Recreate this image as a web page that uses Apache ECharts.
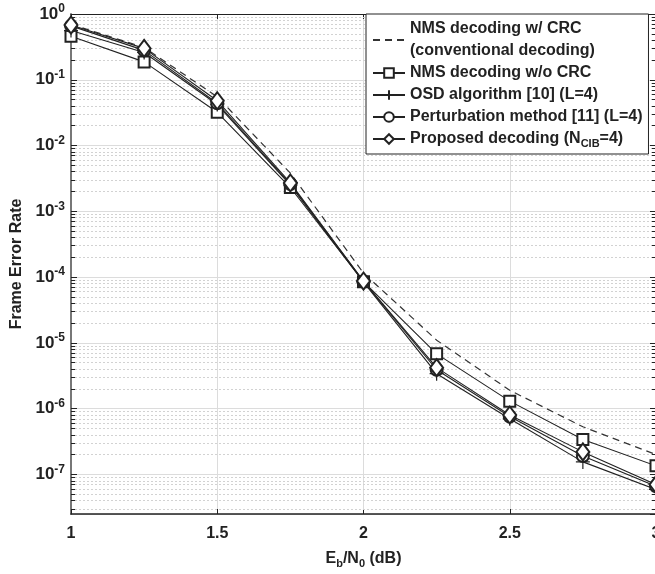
<!DOCTYPE html>
<html>
<head>
<meta charset="utf-8" />
<title>Frame Error Rate</title>
<script src="https://cdn.jsdelivr.net/npm/echarts@6/dist/echarts.min.js"></script>
<style>
html, body { margin: 0; padding: 0; background: #fff; }
#chart { width: 655px; height: 574px; }
</style>
</head>
<body>
<div id="chart"></div>
<script>
// Eb/N0 (dB)
var ebn0 = [1, 1.25, 1.5, 1.75, 2, 2.25, 2.5, 2.75, 3];
// frame error rates
var nmsCrc   = [0.70, 0.31, 0.055, 0.0038, 1.15e-4, 1.1e-5, 1.9e-6, 5.3e-7, 2.0e-7];
var nmsNoCrc = [0.46, 0.187, 0.032, 0.0023, 8.5e-5, 6.8e-6, 1.3e-6, 3.4e-7, 1.35e-7];
var osd      = [0.56, 0.26, 0.042, 0.0025, 8.4e-5, 3.4e-6, 7.0e-7, 1.55e-7, 5.9e-8];
var perturb  = [0.66, 0.28, 0.044, 0.0026, 8.6e-5, 3.9e-6, 7.6e-7, 1.9e-7, 6.6e-8];
var proposed = [0.68, 0.30, 0.048, 0.0027, 8.7e-5, 4.2e-6, 8.0e-7, 2.2e-7, 7.0e-8];

var names = [
	'NMS decoding w/ CRC\n(conventional decoding)',
	'NMS decoding w/o CRC',
	'OSD algorithm [10] (L=4)',
	'Perturbation method [11] (L=4)',
	'Proposed decoding (NCIB=4)'
];

var yMin = 2.5e-8, yMax = 1;
var ink = '#222';
var font = '"Liberation Sans", Arial, Helvetica, sans-serif';

// minor grid values 2..9 x 10^k
var minorVals = [];
for (var k = -8; k < 0; k++) {
	for (var m = 2; m <= 9; m++) {
		var v = m * Math.pow(10, k);
		if (v > yMin && v < yMax) minorVals.push(v);
	}
}
var minorGrid = minorVals.map(function (v) { return { yAxis: v }; });
var minorTicks = [];
minorVals.forEach(function (v) {
	minorTicks.push([{ coord: [1, v] }, { coord: [1.014, v] }]);
	minorTicks.push([{ coord: [3, v] }, { coord: [2.986, v] }]);
});

function pairs(ys) {
	return ebn0.map(function (x, i) { return [x, ys[i]]; });
}

var chart = echarts.init(document.getElementById('chart'));

var option = {
	animation: false,
	backgroundColor: '#fff',
	textStyle: { fontFamily: font },
	grid: { left: 71, top: 14, right: -1, bottom: 60, outerBoundsMode: 'none' },
	legend: {
		orient: 'vertical',
		left: 366,
		top: 14,
		padding: [4, 6, 4, 6],
		itemGap: 0,
		itemWidth: 32,
		itemHeight: 12,
		backgroundColor: '#fff',
		borderColor: ink,
		borderWidth: 1,
		borderRadius: 0,
		data: [
			{ name: names[0], itemStyle: { opacity: 0 } },
			names[1], names[2], names[3], names[4]
		],
		textStyle: {
			fontFamily: font, fontSize: 16, fontWeight: 'bold', color: ink, lineHeight: 22,
			rich: {
				sub: { fontFamily: font, fontSize: 11, fontWeight: 'bold', color: ink, padding: [10, 0, 0, 0] }
			}
		},
		formatter: function (name) {
			if (name === names[4]) return 'Proposed decoding (N{sub|CIB}=4)';
			return name;
		}
	},
	xAxis: [{
		type: 'value',
		min: 1, max: 3, interval: 0.5,
		name: '{n|E}{s|b}{n|/N}{s|0}{n| (dB)}',
		nameLocation: 'middle',
		nameGap: 34,
		nameTextStyle: {
			rich: {
				n: { fontFamily: font, fontSize: 16, fontWeight: 'bold', color: ink },
				s: { fontFamily: font, fontSize: 11, fontWeight: 'bold', color: ink, padding: [10, 0, 0, 0] }
			}
		},
		axisLine: { lineStyle: { color: ink, width: 1.5 } },
		axisTick: { inside: true, length: 5, lineStyle: { color: ink } },
		axisLabel: {
			fontFamily: font, fontSize: 16, fontWeight: 'bold', color: ink, margin: 12,
			formatter: function (v) { return String(v); }
		},
		splitLine: { show: true, lineStyle: { color: '#dcdcdc', width: 1 } }
	}, {
		type: 'value',
		position: 'top',
		min: 1, max: 3, interval: 0.5,
		axisLine: { show: true, lineStyle: { color: ink, width: 1.2 } },
		axisTick: { inside: true, length: 5, lineStyle: { color: ink } },
		axisLabel: { show: false },
		splitLine: { show: false }
	}],
	yAxis: [{
		type: 'log',
		logBase: 10,
		min: yMin, max: yMax,
		name: 'Frame Error Rate',
		nameLocation: 'middle',
		nameGap: 38,
		nameTextStyle: { fontFamily: font, fontSize: 16, fontWeight: 'bold', color: ink },
		axisLine: { show: true, lineStyle: { color: '#777', width: 2 } },
		axisTick: { inside: true, length: 6, lineStyle: { color: ink } },
		axisLabel: {
			showMinLabel: false,
			margin: 6,
			formatter: function (v) {
				var e = Math.round(Math.log(v) / Math.LN10);
				return '{b|10}{s|' + e + '}';
			},
			rich: {
				b: { fontFamily: font, fontSize: 17, fontWeight: 'bold', color: ink },
				s: { fontFamily: font, fontSize: 12, fontWeight: 'bold', color: ink, padding: [0, 0, 10, 0] }
			}
		},
		splitLine: { show: true, lineStyle: { color: '#dcdcdc', width: 1 } }
	}, {
		type: 'log',
		logBase: 10,
		position: 'right',
		min: yMin, max: yMax,
		axisLine: { show: true, lineStyle: { color: ink, width: 1.2 } },
		axisTick: { inside: true, length: 6, lineStyle: { color: ink } },
		axisLabel: { show: false },
		splitLine: { show: false }
	}],
	series: [{
		name: names[0],
		type: 'line',
		data: pairs(nmsCrc),
		symbol: 'none',
		lineStyle: { color: '#333', width: 1.2, type: [7, 5] },
		itemStyle: { color: '#333' },
		z: 3,
		markLine: {
			silent: true, symbol: 'none', z: 1, precision: 15,
			label: { show: false },
			emphasis: { disabled: true },
			lineStyle: { color: '#d2d2d2', width: 1, type: [2, 2] },
			data: minorGrid
		}
	}, {
		name: names[1],
		type: 'line',
		data: pairs(nmsNoCrc),
		symbol: 'emptyRect',
		symbolSize: 11,
		lineStyle: { color: ink, width: 1.1 },
		itemStyle: { color: ink, borderWidth: 1.1 },
		z: 3,
		markLine: {
			silent: true, symbol: 'none', z: 2, precision: 15,
			label: { show: false },
			emphasis: { disabled: true },
			lineStyle: { color: ink, width: 1, type: 'solid' },
			data: minorTicks
		}
	}, {
		name: names[2],
		type: 'line',
		data: pairs(osd),
		symbol: 'path://M0,6L12,6M6,0L6,12',
		symbolSize: 14,
		lineStyle: { color: ink, width: 1.1 },
		itemStyle: { color: ink, borderColor: ink, borderWidth: 1.2 },
		z: 3
	}, {
		name: names[3],
		type: 'line',
		data: pairs(perturb),
		symbol: 'emptyCircle',
		symbolSize: 12,
		lineStyle: { color: ink, width: 1.1 },
		itemStyle: { color: ink, borderWidth: 1.1 },
		z: 3
	}, {
		name: names[4],
		type: 'line',
		data: pairs(proposed),
		symbol: 'emptyDiamond',
		symbolSize: [13, 17],
		lineStyle: { color: ink, width: 1.1 },
		itemStyle: { color: ink, borderWidth: 1.1 },
		z: 3
	}]
};

chart.setOption(option);
</script>
</body>
</html>
